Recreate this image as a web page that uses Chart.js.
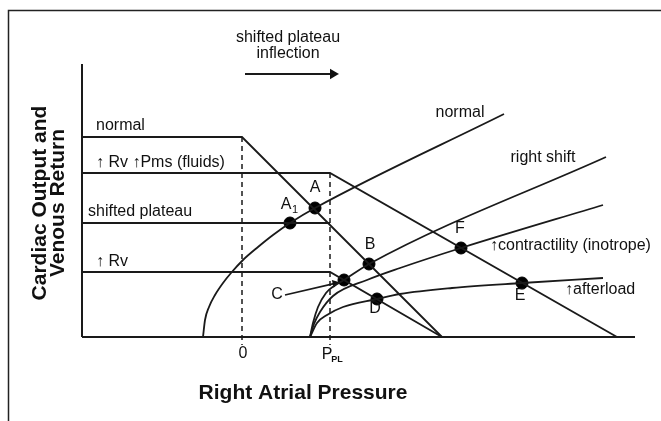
<!DOCTYPE html>
<html>
<head>
<meta charset="utf-8">
<script src="https://cdn.jsdelivr.net/npm/chart.js@4"></script>
<style>
html, body { margin: 0; padding: 0; background: #fff; }
</style>
</head>
<body>
<canvas id="chart" width="661" height="421"></canvas>
<script>
// schematic units: x = right atrial pressure, y = cardiac output / venous return
const pPL = 4.4

const axisY = [{x: -8, y: 0}, {x: -8, y: 13.65}]
const axisX = [{x: -8, y: 0}, {x: 19.65, y: 0}]

// venous return curves
const vrNormal = [{x: -8, y: 10}, {x: 0, y: 10}, {x: 10, y: 0}]
const vrFluids = [{x: -8, y: 8.2}, {x: pPL, y: 8.2}, {x: 18.75, y: 0}]
const vrShifted = [{x: -8, y: 5.7}, {x: pPL, y: 5.7}]
const vrRv = [{x: -8, y: 3.25}, {x: pPL, y: 3.25}, {x: 10, y: 0}]

// cardiac function curves
const coNormal = [
    {x: -1.95, y: 0}, {x: -1.85, y: 0.85}, {x: -1.65, y: 1.5}, {x: -1.35, y: 2.1},
    {x: -0.95, y: 2.7}, {x: -0.55, y: 3.2}, {x: 0.05, y: 3.85}, {x: 0.8, y: 4.5},
    {x: 1.55, y: 5.1}, {x: 2.4, y: 5.7}, {x: 3.65, y: 6.45}, {x: 13.1, y: 11.15}
]
const coRightShift = [
    {x: 3.4, y: 0}, {x: 3.55, y: 0.7}, {x: 3.8, y: 1.5}, {x: 4.2, y: 2.2},
    {x: 4.6, y: 2.55}, {x: 5.1, y: 2.85}, {x: 6.35, y: 3.65}, {x: 18.2, y: 9.0}
]
const coContractility = [
    {x: 3.4, y: 0}, {x: 3.6, y: 0.65}, {x: 3.9, y: 1.25}, {x: 4.55, y: 2.05},
    {x: 6.25, y: 2.85}, {x: 7.9, y: 3.45}, {x: 10.95, y: 4.45}, {x: 18.05, y: 6.6}
]
const coAfterload = [
    {x: 3.4, y: 0}, {x: 3.75, y: 0.7}, {x: 4.25, y: 1.1}, {x: 5.05, y: 1.5},
    {x: 6.75, y: 1.9}, {x: 7.9, y: 2.15}, {x: 10.5, y: 2.45}, {x: 14, y: 2.7}, {x: 18.05, y: 2.95}
]

const dashZero = [{x: 0, y: 10}, {x: 0, y: -0.4}]
const dashPPL = [{x: pPL, y: 8.2}, {x: pPL, y: -0.4}]

const arrowTop = [{x: 0.15, y: 13.15}, {x: 4.55, y: 13.15}]
const arrowC = [{x: 2.15, y: 2.1}, {x: 4.65, y: 2.68}]

// equilibrium points A1, A, B, C, D, E, F
const eqPoints = [
    {x: 2.4, y: 5.7}, {x: 3.65, y: 6.45}, {x: 6.35, y: 3.65}, {x: 5.1, y: 2.85},
    {x: 6.75, y: 1.9}, {x: 14, y: 2.7}, {x: 10.95, y: 4.45}
]

const font = '"Liberation Sans", Arial, sans-serif'
const textLabels = [
    {text: 'normal', x: -7.3, y: 10.55, size: 16, align: 'left'},
    {text: '\u2191 Rv \u2191Pms (fluids)', x: -7.3, y: 8.7, size: 16, align: 'left'},
    {text: 'shifted plateau', x: -7.7, y: 6.25, size: 16, align: 'left'},
    {text: '\u2191 Rv', x: -7.3, y: 3.75, size: 16, align: 'left'},
    {text: 'shifted plateau', x: 2.3, y: 14.95, size: 16, align: 'center'},
    {text: 'inflection', x: 2.3, y: 14.15, size: 16, align: 'center'},
    {text: 'normal', x: 10.9, y: 11.2, size: 16, align: 'center'},
    {text: 'right shift', x: 15.05, y: 8.95, size: 16, align: 'center'},
    {text: '\u2191contractility (inotrope)', x: 12.4, y: 4.55, size: 16, align: 'left'},
    {text: '\u2191afterload', x: 16.15, y: 2.35, size: 16, align: 'left'},
    {text: 'A', x: 2.2, y: 6.6, size: 16, align: 'center'},
    {text: '1', x: 2.65, y: 6.35, size: 11, align: 'center'},
    {text: 'A', x: 3.65, y: 7.45, size: 16, align: 'center'},
    {text: 'B', x: 6.4, y: 4.6, size: 16, align: 'center'},
    {text: 'C', x: 1.75, y: 2.1, size: 16, align: 'center'},
    {text: 'D', x: 6.65, y: 1.4, size: 16, align: 'center'},
    {text: 'E', x: 13.9, y: 2.05, size: 16, align: 'center'},
    {text: 'F', x: 10.9, y: 5.4, size: 16, align: 'center'},
    {text: '0', x: 0.05, y: -0.85, size: 16, align: 'center'},
    {text: 'P', x: 4.25, y: -0.9, size: 16, align: 'center'},
    {text: 'PL', x: 4.75, y: -1.15, size: 9, align: 'center', bold: true},
    {text: 'Right Atrial Pressure', x: 3.05, y: -2.8, size: 21, align: 'center', bold: true},
]
const yTitle = ['Cardiac Output and', 'Venous Return']

document.addEventListener('DOMContentLoaded', function(){
    const canvas = document.getElementById('chart').getContext('2d')
    createGuytonChart(canvas)
})

function lineSet(data, extra) {
    return Object.assign({
        data: data,
        showLine: true,
        borderColor: '#1a1a1a',
        borderWidth: 1.8,
        pointRadius: 0,
        fill: false,
        clip: false,
    }, extra || {})
}

const framePlugin = {
    id: 'frame',
    beforeDraw(chart) {
        const ctx = chart.ctx
        ctx.save()
        ctx.fillStyle = '#fff'
        ctx.fillRect(0, 0, chart.width, chart.height)
        ctx.strokeStyle = '#222'
        ctx.lineWidth = 1.5
        ctx.beginPath()
        ctx.moveTo(8.5, chart.height)
        ctx.lineTo(8.5, 10.5)
        ctx.lineTo(chart.width, 10.5)
        ctx.stroke()
        ctx.restore()
    }
}

const textPlugin = {
    id: 'texts',
    afterDraw(chart) {
        const ctx = chart.ctx
        const xs = chart.scales.x
        const ys = chart.scales.y
        ctx.save()
        ctx.fillStyle = '#111'
        ctx.textBaseline = 'middle'
        for (const label of textLabels) {
            ctx.font = (label.bold ? 'bold ' : '') + label.size + 'px ' + font
            ctx.textAlign = label.align
            ctx.fillText(label.text, xs.getPixelForValue(label.x), ys.getPixelForValue(label.y))
        }
        ctx.translate(xs.getPixelForValue(-9.65), ys.getPixelForValue(6.7))
        ctx.rotate(-Math.PI / 2)
        ctx.font = 'bold 21px ' + font
        ctx.textAlign = 'center'
        ctx.fillText(yTitle[0], 0, -9)
        ctx.fillText(yTitle[1], 0, 9)
        ctx.restore()
    }
}

function createGuytonChart(canvas) {
    new Chart(canvas, {
        type: 'scatter',
        data: {
            datasets: [
                lineSet(axisY, {borderWidth: 2}),
                lineSet(axisX, {borderWidth: 2}),
                lineSet(vrNormal),
                lineSet(vrFluids),
                lineSet(vrShifted),
                lineSet(vrRv),
                lineSet(dashZero, {borderDash: [5, 4], borderWidth: 1.5}),
                lineSet(dashPPL, {borderDash: [5, 4], borderWidth: 1.5}),
                lineSet(coNormal, {cubicInterpolationMode: 'monotone'}),
                lineSet(coRightShift, {cubicInterpolationMode: 'monotone'}),
                lineSet(coContractility, {cubicInterpolationMode: 'monotone'}),
                lineSet(coAfterload, {cubicInterpolationMode: 'monotone'}),
                lineSet(arrowTop, {
                    borderWidth: 2,
                    pointStyle: 'triangle',
                    pointRadius: [0, 4],
                    pointRotation: 90,
                    pointBackgroundColor: '#111',
                    pointBorderColor: '#111',
                }),
                lineSet(arrowC, {
                    borderWidth: 1.6,
                    pointStyle: 'triangle',
                    pointRadius: [0, 3],
                    pointRotation: 77,
                    pointBackgroundColor: '#111',
                    pointBorderColor: '#111',
                }),
                {
                    data: eqPoints,
                    showLine: false,
                    pointRadius: 6,
                    pointBackgroundColor: '#000',
                    pointBorderColor: '#000',
                    clip: false,
                },
            ]
        },
        options: {
            responsive: false,
            animation: false,
            layout: {
                padding: {left: 82, right: 9, top: 57, bottom: 84}
            },
            scales: {
                x: {type: 'linear', min: -8, max: 20.5, display: false},
                y: {type: 'linear', min: 0, max: 14, display: false},
            },
            plugins: {
                legend: {display: false},
                tooltip: {enabled: false},
            }
        },
        plugins: [framePlugin, textPlugin]
    })
}
</script>
</body>
</html>
